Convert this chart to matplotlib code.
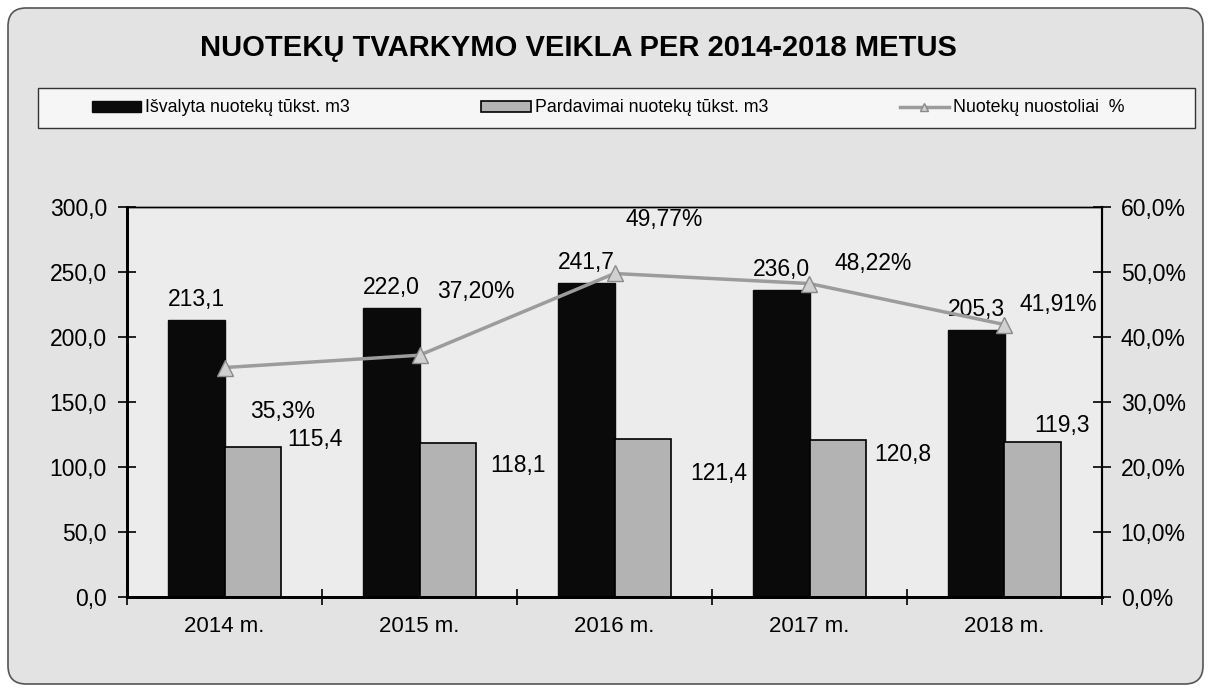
import matplotlib.pyplot as plt
import numpy as np
from matplotlib.patches import FancyBboxPatch, Rectangle
from matplotlib.ticker import FuncFormatter, NullFormatter

plt.rcParams['font.family'] = ['Liberation Sans', 'DejaVu Sans']

# duomenys
metai = ['2014 m.', '2015 m.', '2016 m.', '2017 m.', '2018 m.']
isvalyta = [213.1, 222.0, 241.7, 236.0, 205.3]
pardavimai = [115.4, 118.1, 121.4, 120.8, 119.3]
nuostoliai = [35.3, 37.20, 49.77, 48.22, 41.91]
nuost_dec = [1, 2, 2, 2, 2]

# label offsets (pixels), hand placed like in the original
pard_off = [(62, 7), (70, -22), (76, -34), (65, -15), (29, 16)]
nuost_off = [(58, -44), (56, 64), (50, 54), (64, 20), (54, 20)]

W, H = 1211, 692
fig = plt.figure(figsize=(W / 100, H / 100), dpi=100)
fig.patch.set_facecolor('white')
fig.patches.append(FancyBboxPatch((8 / W, 8 / H), 1195 / W, 676 / H,
                                  boxstyle='round,pad=0,rounding_size=0.015',
                                  mutation_aspect=W / H,
                                  transform=fig.transFigure, facecolor='#e3e3e3',
                                  edgecolor='#555555', lw=1.2, zorder=-3))
# legend frame
fig.patches.append(Rectangle((38 / W, 1 - 128 / H), 1157 / W, 40 / H,
                             transform=fig.transFigure, facecolor='#f6f6f6',
                             edgecolor='#333333', lw=1, zorder=-2))

ax = fig.add_axes([127 / W, 1 - 597 / H, 975 / W, 390 / H])
ax.set_facecolor('#ececec')
x = np.arange(len(metai))
w = 0.29
b1 = ax.bar(x - w / 2, isvalyta, w, color='#0a0a0a', edgecolor='#0a0a0a',
            label='Išvalyta nuotekų tūkst. m3', zorder=2)
b2 = ax.bar(x + w / 2, pardavimai, w, color='#b3b3b3', edgecolor='black', lw=1.2,
            label='Pardavimai nuotekų tūkst. m3', zorder=2)
ax.set_xlim(-0.5, len(metai) - 0.5)
ax.set_ylim(0, 300)
ax.set_yticks(np.arange(0, 301, 50))
ax.yaxis.set_major_formatter(FuncFormatter(lambda v, p: f'{v:.1f}'.replace('.', ',')))
ax.tick_params(axis='y', direction='inout', length=13, width=1.2, labelsize=16.5, pad=8)

ax.set_xticks(np.arange(-0.5, len(metai), 1))
ax.xaxis.set_major_formatter(NullFormatter())
ax.set_xticks(x, minor=True)
ax.set_xticklabels(metai, minor=True)
ax.tick_params(axis='x', which='major', direction='inout', length=12, width=1.2)
ax.tick_params(axis='x', which='minor', length=0, labelsize=16, pad=14)

ax2 = ax.twinx()
ln, = ax2.plot(x, nuostoliai, color='#9c9c9c', lw=2.5, marker='^', ms=12,
               mfc='#d0d0d0', mec='#8a8a8a', label='Nuotekų nuostoliai  %', zorder=3)
ax2.set_ylim(0, 60)
ax2.set_yticks(np.arange(0, 61, 10))
ax2.yaxis.set_major_formatter(FuncFormatter(lambda v, p: f'{v:.1f}%'.replace('.', ',')))
ax2.tick_params(axis='y', direction='inout', length=13, width=1.2, labelsize=16.5, pad=7)

for a in (ax, ax2):
    a.spines['left'].set_linewidth(2)
    a.spines['bottom'].set_linewidth(2)
    a.spines['top'].set_linewidth(1)
    a.spines['right'].set_linewidth(1.5)

# reikšmių etiketės
for xi, v in zip(x, isvalyta):
    ax.annotate(f'{v:.1f}'.replace('.', ','), (xi - w / 2, v), xytext=(0, 9),
                textcoords='offset pixels', ha='center', va='bottom', fontsize=16.5)
for xi, v, (dx, dy) in zip(x, pardavimai, pard_off):
    ax.annotate(f'{v:.1f}'.replace('.', ','), (xi + w / 2, v), xytext=(dx, dy),
                textcoords='offset pixels', ha='center', va='center', fontsize=16.5)
for xi, v, d, (dx, dy) in zip(x, nuostoliai, nuost_dec, nuost_off):
    ax2.annotate(f'{v:.{d}f}%'.replace('.', ','), (xi, v), xytext=(dx, dy),
                 textcoords='offset pixels', ha='center', va='center', fontsize=16.5)

fig.legend([b1, b2, ln], [b1.get_label(), b2.get_label(), ln.get_label()],
           loc='center', bbox_to_anchor=(608 / W, 1 - 108 / H), ncol=3,
           frameon=False, fontsize=12.8, handlelength=2.8, handleheight=0.55,
           handletextpad=0.2, columnspacing=7.4, markerscale=0.5)

fig.text(578 / W, 1 - 48 / H, 'NUOTEKŲ TVARKYMO VEIKLA PER 2014-2018 METUS',
         ha='center', va='center', fontsize=21, fontweight='bold')

fig.savefig('out.png', dpi=100, facecolor=fig.get_facecolor())
